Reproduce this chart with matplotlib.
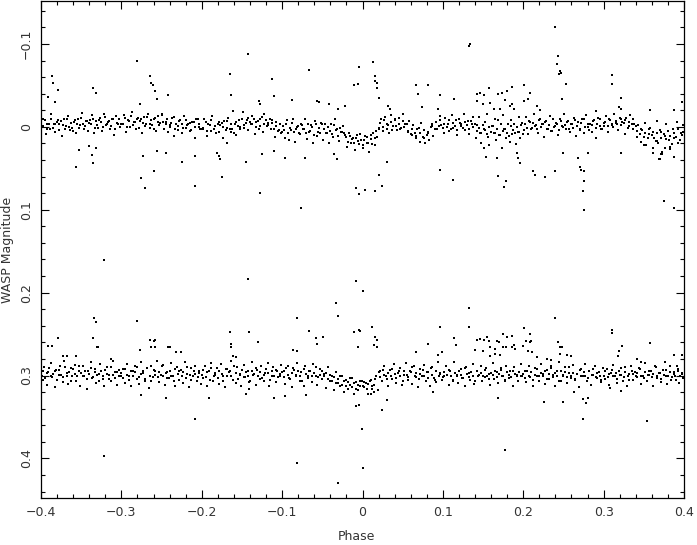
import numpy as np
import matplotlib.pyplot as plt
from matplotlib.ticker import MultipleLocator, FixedLocator

# phase and magnitude in units of 1e-3

# upper light curve, main band (two passes over the band)
upper_phase = [
    -399, -397, -394, -392, -389, -387, -384, -382, -379, -377,
    -374, -372, -369, -367, -364, -362, -359, -357, -354, -352,
    -349, -347, -344, -342, -339, -337, -334, -332, -329, -327,
    -324, -322, -319, -317, -314, -312, -309, -307, -304, -302,
    -299, -297, -294, -292, -289, -287, -284, -282, -279, -277,
    -274, -272, -269, -267, -264, -262, -259, -257, -254, -252,
    -249, -247, -244, -242, -239, -237, -234, -232, -229, -227,
    -224, -222, -219, -217, -214, -212, -209, -207, -204, -202,
    -199, -197, -194, -192, -189, -187, -184, -182, -179, -177,
    -174, -172, -169, -167, -164, -162, -159, -157, -154, -152,
    -149, -147, -144, -142, -139, -137, -134, -132, -129, -127,
    -124, -122, -119, -117, -114, -112, -109, -107, -104, -102,
    -99, -97, -94, -92, -89, -87, -84, -82, -79, -77,
    -74, -72, -69, -67, -64, -62, -59, -57, -54, -52,
    -49, -47, -44, -42, -39, -37, -34, -32, -29, -27,
    -24, -22, -19, -17, -14, -12, -9, -7, -4, -2,
    1, 3, 6, 8, 11, 13, 16, 18, 21, 23,
    26, 28, 31, 33, 36, 38, 41, 43, 46, 48,
    51, 53, 56, 58, 61, 63, 66, 68, 71, 73,
    76, 78, 81, 83, 86, 88, 91, 93, 96, 98,
    101, 103, 106, 108, 111, 113, 116, 118, 121, 123,
    126, 128, 131, 133, 136, 138, 141, 143, 146, 148,
    151, 153, 156, 158, 161, 163, 166, 168, 171, 173,
    176, 178, 181, 183, 186, 188, 191, 193, 196, 198,
    201, 203, 206, 208, 211, 213, 216, 218, 221, 223,
    226, 228, 231, 233, 236, 238, 241, 243, 246, 248,
    251, 253, 256, 258, 261, 263, 266, 268, 271, 273,
    276, 278, 281, 283, 286, 288, 291, 293, 296, 298,
    301, 303, 306, 308, 311, 313, 316, 318, 321, 323,
    326, 328, 331, 333, 336, 338, 341, 343, 346, 348,
    351, 353, 356, 358, 361, 363, 366, 368, 371, 373,
    376, 378, 381, 383, 386, 388, 391, 393, 396, 399,
]
upper_mag = [
    -1, -10, 9, -4, 3, -15, -3, 6, -8, -4,
    11, -9, -1, -13, 4, 1, -6, 8, -10, -2,
    -17, 2, -7, 5, -8, -14, 8, -7, 1, -11,
    5, -16, -2, -6, 2, -9, 10, -13, -3, 0,
    -3, -14, 6, -8, 0, -18, -6, 3, -11, -7,
    8, -12, -4, -16, 1, -2, -9, 5, -13, -5,
    -16, 3, -6, 6, -2, -11, 11, -4, 4, -8,
    8, -13, 1, -3, 5, -6, 13, -10, 0, 3,
    2, -9, 11, -3, 5, -13, -1, 8, -6, -2,
    13, -7, 1, -11, 6, 3, -4, 10, -8, 0,
    -18, 1, -8, 4, -4, -13, 9, -6, 2, -10,
    6, -15, -1, -5, 3, -8, 12, -6, 4, 7,
    -1, 14, -8, 16, 4, -10, 18, 0, 8, -4,
    3, -9, 15, 6, -2, 19, -7, 11, 1, -5,
    16, -4, 8, 20, -3, 12, -9, 2, 17, 6,
    -1, 10, 24, 8, 19, 13, 28, 10, 21, 16,
    26, 11, 20, 30, 15, 8, 22, 12, 2, -9,
    5, -12, -4, 7, -14, -1, -8, 4, -11, 1,
    -15, -3, 6, -7, 10, -2, 14, 3, 18, -5,
    13, 20, 8, 16, -1, 11, -6, 3, -13, -2,
    8, -11, -3, 5, -14, 1, -8, 10, -5, -1,
    -16, 4, -7, 9, -4, -12, 14, -2, 8, 19,
    3, -6, 12, 22, -1, 7, 16, -8, 10, 25,
    2, 13, -4, 18, 9, -3, 21, 6, 14, -5,
    4, -12, 9, -6, 1, -15, -2, 7, -9, -4,
    12, -7, 2, -13, 5, 0, -5, 10, -10, -1,
    -16, 3, -7, 6, -3, -11, 11, -6, 4, -9,
    7, -14, 0, -3, 6, -8, 13, -11, -1, 3,
    -1, -13, 6, -8, -2, -16, -5, 4, -10, -6,
    9, -11, -1, -14, 2, -3, 12, -2, 18, 4,
    -5, 22, 9, 1, 26, 14, -7, 19, 6, 30,
    11, -3, 16, 24, 2, 13, -6, 20, 8, -2,
]
upper_phase_b = [
    -398, -395, -393, -390, -388, -385, -383, -380, -378, -375,
    -373, -370, -368, -365, -363, -360, -358, -355, -353, -350,
    -348, -345, -343, -340, -338, -335, -333, -330, -328, -325,
    -323, -320, -318, -315, -313, -310, -308, -305, -303, -300,
    -298, -295, -293, -290, -288, -285, -283, -280, -278, -275,
    -273, -270, -268, -265, -263, -260, -258, -255, -253, -250,
    -248, -245, -243, -240, -238, -235, -233, -230, -228, -225,
    -223, -220, -218, -215, -213, -210, -208, -205, -203, -200,
    -198, -195, -193, -190, -188, -185, -183, -180, -178, -175,
    -173, -170, -168, -165, -163, -160, -158, -155, -153, -150,
    -148, -145, -143, -140, -138, -135, -133, -130, -128, -125,
    -123, -120, -118, -115, -113, -110, -108, -105, -103, -100,
    -98, -95, -93, -90, -88, -85, -83, -80, -78, -75,
    -73, -70, -68, -65, -63, -60, -58, -55, -53, -50,
    -48, -45, -43, -40, -38, -35, -33, -30, -28, -25,
    -23, -20, -18, -15, -13, -10, -8, -5, -3, 0,
    2, 5, 7, 10, 12, 15, 17, 20, 22, 25,
    27, 30, 32, 35, 37, 40, 42, 45, 47, 50,
    52, 55, 57, 60, 62, 65, 67, 70, 72, 75,
    77, 80, 82, 85, 87, 90, 92, 95, 97, 100,
    102, 105, 107, 110, 112, 115, 117, 120, 122, 125,
    127, 130, 132, 135, 137, 140, 142, 145, 147, 150,
    152, 155, 157, 160, 162, 165, 167, 170, 172, 175,
    177, 180, 182, 185, 187, 190, 192, 195, 197, 200,
    202, 205, 207, 210, 212, 215, 217, 220, 222, 225,
    227, 230, 232, 235, 237, 240, 242, 245, 247, 250,
    252, 255, 257, 260, 262, 265, 267, 270, 272, 275,
    277, 280, 282, 285, 287, 290, 292, 295, 297, 300,
    302, 305, 307, 310, 312, 315, 317, 320, 322, 325,
    327, 330, 332, 335, 337, 340, 342, 345, 347, 350,
    352, 355, 357, 360, 362, 365, 367, 370, 372, 375,
    377, 380, 382, 385, 387, 390, 392, 395, 397, 399,
]
upper_mag_b = [
    -1, -8, 3, -4, -10, 1, -3, -6, 4, -7,
    -2, 2, -9, 0, -5, 5, -8, -3, 1, -11,
    -4, -1, -7, -5, -3, -10, 1, -2, -8, -6,
    0, -12, -4, -7, -1, -9, 2, -5, -10, -3,
    -4, -11, 0, -7, -13, -2, -6, -9, 1, -10,
    -5, -1, -12, -3, -8, 2, -11, -6, -2, -14,
    -6, -3, -9, 0, -5, -12, 3, -1, -7, -4,
    1, -8, -2, -5, 4, -6, 0, -9, -3, 2,
    1, -6, 5, -2, -8, 3, -1, -4, 6, -5,
    0, 4, -7, 2, -3, 7, -6, -1, 3, -9,
    -2, -5, -11, -6, -3, -9, 0, -7, -1, -12,
    -4, -8, -2, -10, -5, 3, -1, 5, -4, 6,
    4, -3, 8, 1, -5, 6, 2, -1, 9, -2,
    3, 7, -4, 5, 0, 10, -3, 6, 8, -4,
    2, 7, 0, 5, 9, -2, 4, 11, 1, 6,
    8, 12, 18, 11, 15, 20, 13, 17, 9, 22,
    16, 12, 19, 10, 21, 14, 5, 1, -5, 0,
    -8, 3, -2, -6, 4, -9, -1, -4, 2, -7,
    0, -3, 5, 9, 3, 8, 11, 1, 7, 12,
    4, 10, 6, 0, -4, 2, -6, -1, -8, 1,
    -4, 0, -8, 2, -5, -1, 4, -9, -3, 1,
    -6, -2, 3, -7, 0, -4, 5, 1, 7, -2,
    4, 9, 0, 6, -1, 8, 3, 10, -3, 5,
    2, 7, 11, -1, 4, 8, 0, 6, -2, 9,
    -3, 1, -7, 2, -5, -1, 3, -8, 0, -4,
    -6, 2, -2, 5, -9, -1, -4, 4, -7, 0,
    -2, -6, 3, -3, 1, -8, -1, 2, -5, -10,
    0, -4, 4, -2, -7, 1, -3, -9, 2, -5,
    -6, -1, -9, -3, 0, -7, -4, -11, -2, -5,
    -8, 1, -6, -3, -10, -1, 5, 9, 3, 12,
    7, 14, 2, 10, 6, 17, 8, 4, 13, 9,
    15, 5, 11, 21, 7, 12, 3, 16, 10, 6,
]

# upper light curve, scattered points
upper_out_phase = [
    -386, -385, -379, -383, -391, -356, -353, -335, -332, -336,
    -331, -335, -340, -281, -264, -263, -261, -258, -256, -277,
    -242, -276, -271, -259, -273, -256, -244, -225, -208, -209,
    -175, -181, -179, -177, -165, -163, -142, -145, -161, -169,
    -112, -66, -128, -77, -125, -97, -110, -71, -32, -35,
    -129, -127, -110, -88, -57, -54, -42, -31, -22, -10,
    -6, -4, 13, 16, 15, 18, 18, 20, -8, -4,
    3, 16, 24, 21, 31, 34, 32, 67, 69, 81,
    97, 114, 132, 134, 97, 113, 94, 74,
    240, 243, 242, 246, 247, 245, 253, 248, 310, 311,
    321, 268, 270, 272, 275, 276, 274, 275, 168, 176,
    179, 212, 214, 227, 240, 250, 280, 322, 375, 388,
    387, 370, 373, 194, 196, 192, 154, 151, 167,
    142, 146, 151, 157, 169, 173, 177, 180, 186, 184,
    201, 206, 208, 201, 142, 159, 150, 163, 171, 186,
    189, 319, 322, 358, 387, 397, 291, 217, 221, 350,
    362, 366, 372, 382, 369, 376, 145, 155, 165, 175,
    185, 195,
]
upper_out_mag = [
    -61, -53, -45, -30, -36, 49, 28, -47, -41, 34,
    25, 44, 23, -80, -61, -53, -51, -43, -33, -28,
    -39, 62, 74, 53, 35, 29, 32, 43, 71, 35,
    60, 31, 35, 39, -64, -39, -88, 43, -19, 20,
    -58, -69, 80, 98, 33, 37, 29, 38, 39, 33,
    -31, -27, -37, -32, -31, -30, -28, -22, -25, -50,
    -52, -72, -78, -61, -55, -53, -47, -35, 74, 81,
    76, 77, 71, 58, 42, -22, -25, -51, -40, -51,
    -38, -34, -97, -100, 52, 64, -22, -24,
    -120, -85, -76, -67, -65, -64, -52, -33, -63, -52,
    -35, 37, 48, 52, 53, 65, 77, 100, 59, 72,
    65, 53, 58, 60, 53, 31, 32, 31, 90, 98,
    36, 39, 33, 37, 44, 32, 36, 25, 37,
    -40, -41, -39, -47, -40, -41, -32, -43, -48, -25,
    -31, -33, -41, -51, -31, -29, -27, -22, -21, -27,
    -22, -24, -22, -20, -20, -30, -19, -25, -20, 22,
    31, 17, 33, 27, 39, 26, -12, -15, -10, -14,
    -8, -12,
]

# lower light curve, main band (two passes over the band)
lower_phase = [
    -398, -396, -393, -391, -388, -386, -383, -381, -378, -376,
    -373, -371, -368, -366, -363, -361, -358, -356, -353, -351,
    -348, -346, -343, -341, -338, -336, -333, -331, -328, -326,
    -323, -321, -318, -316, -313, -311, -308, -306, -303, -301,
    -298, -296, -293, -291, -288, -286, -283, -281, -278, -276,
    -273, -271, -268, -266, -263, -261, -258, -256, -253, -251,
    -248, -246, -243, -241, -238, -236, -233, -231, -228, -226,
    -223, -221, -218, -216, -213, -211, -208, -206, -203, -201,
    -198, -196, -193, -191, -188, -186, -183, -181, -178, -176,
    -173, -171, -168, -166, -163, -161, -158, -156, -153, -151,
    -148, -146, -143, -141, -138, -136, -133, -131, -128, -126,
    -123, -121, -118, -116, -113, -111, -108, -106, -103, -101,
    -98, -96, -93, -91, -88, -86, -83, -81, -78, -76,
    -73, -71, -68, -66, -63, -61, -58, -56, -53, -51,
    -48, -46, -43, -41, -38, -36, -33, -31, -28, -26,
    -23, -21, -18, -16, -13, -11, -8, -6, -3, -1,
    2, 4, 7, 9, 12, 14, 17, 19, 22, 24,
    27, 29, 32, 34, 37, 39, 42, 44, 47, 49,
    52, 54, 57, 59, 62, 64, 67, 69, 72, 74,
    77, 79, 82, 84, 87, 89, 92, 94, 97, 99,
    102, 104, 107, 109, 112, 114, 117, 119, 122, 124,
    127, 129, 132, 134, 137, 139, 142, 144, 147, 149,
    152, 154, 157, 159, 162, 164, 167, 169, 172, 174,
    177, 179, 182, 184, 187, 189, 192, 194, 197, 199,
    202, 204, 207, 209, 212, 214, 217, 219, 222, 224,
    227, 229, 232, 234, 237, 239, 242, 244, 247, 249,
    252, 254, 257, 259, 262, 264, 267, 269, 272, 274,
    277, 279, 282, 284, 287, 289, 292, 294, 297, 299,
    302, 304, 307, 309, 312, 314, 317, 319, 322, 324,
    327, 329, 332, 334, 337, 339, 342, 344, 347, 349,
    352, 354, 357, 359, 362, 364, 367, 369, 372, 374,
    377, 379, 382, 384, 387, 389, 392, 394, 397, 399,
]
lower_mag = [
    305, 290, 311, 296, 285, 302, 314, 293, 299, 288,
    308, 283, 297, 310, 291, 301, 287, 306, 295, 312,
    289, 300, 316, 294, 284, 303, 292, 309, 298, 286,
    304, 313, 290, 299, 307, 282, 296, 311, 293, 301,
    292, 309, 286, 300, 313, 295, 288, 304, 310, 284,
    297, 306, 291, 315, 289, 302, 294, 283, 308, 299,
    287, 311, 296, 303, 285, 300, 312, 290, 305, 293,
    309, 284, 298, 314, 291, 301, 288, 306, 295, 310,
    303, 288, 312, 294, 285, 307, 299, 291, 310, 286,
    300, 314, 292, 296, 283, 305, 309, 290, 298, 312,
    287, 302, 295, 308, 284, 299, 311, 293, 304, 289,
    306, 297, 285, 313, 301, 290, 308, 294, 300, 287,
    295, 310, 288, 303, 314, 291, 299, 285, 307, 296,
    312, 289, 301, 294, 308, 286, 300, 311, 292, 304,
    298, 315, 290, 306, 301, 318, 296, 309, 313, 300,
    320, 305, 316, 311, 303, 322, 308, 317, 312, 306,
    314, 309, 322, 306, 316, 311, 301, 318, 295, 307,
    288, 300, 312, 293, 304, 286, 309, 297, 291, 311,
    299, 285, 305, 295, 310, 289, 302, 314, 292, 300,
    287, 306, 296, 313, 290, 303, 308, 284, 298, 305,
    301, 288, 311, 295, 306, 284, 299, 309, 292, 303,
    313, 290, 297, 305, 286, 310, 294, 300, 289, 307,
    302, 291, 298, 311, 285, 304, 296, 309, 293, 300,
    306, 288, 303, 295, 312, 290, 299, 307, 286, 301,
    295, 308, 289, 302, 313, 291, 300, 306, 286, 298,
    310, 293, 304, 288, 299, 312, 295, 284, 307, 301,
    290, 309, 297, 303, 287, 305, 298, 314, 292, 300,
    286, 306, 294, 311, 299, 289, 303, 296, 308, 291,
    304, 292, 311, 297, 287, 301, 309, 294, 299, 306,
    290, 313, 298, 288, 305, 296, 302, 291, 310, 300,
    285, 307, 299, 294, 312, 289, 303, 297, 308, 293,
    301, 310, 288, 305, 296, 300, 292, 309, 298, 303,
]
lower_phase_b = [
    -399, -398, -395, -393, -390, -388, -385, -383, -380, -378,
    -375, -373, -370, -368, -365, -363, -360, -358, -355, -353,
    -350, -348, -345, -343, -340, -338, -335, -333, -330, -328,
    -325, -323, -320, -318, -315, -313, -310, -308, -305, -303,
    -300, -298, -295, -293, -290, -288, -285, -283, -280, -278,
    -275, -273, -270, -268, -265, -263, -260, -258, -255, -253,
    -250, -248, -245, -243, -240, -238, -235, -233, -230, -228,
    -225, -223, -220, -218, -215, -213, -210, -208, -205, -203,
    -200, -198, -195, -193, -190, -188, -185, -183, -180, -178,
    -175, -173, -170, -168, -165, -163, -160, -158, -155, -153,
    -150, -148, -145, -143, -140, -138, -135, -133, -130, -128,
    -125, -123, -120, -118, -115, -113, -110, -108, -105, -103,
    -100, -98, -95, -93, -90, -88, -85, -83, -80, -78,
    -75, -73, -70, -68, -65, -63, -60, -58, -55, -53,
    -50, -48, -45, -43, -40, -38, -35, -33, -30, -28,
    -25, -23, -20, -18, -15, -13, -10, -8, -5, -3,
    0, 2, 5, 7, 10, 12, 15, 17, 20, 22,
    25, 27, 30, 32, 35, 37, 40, 42, 45, 47,
    50, 52, 55, 57, 60, 62, 65, 67, 70, 72,
    75, 77, 80, 82, 85, 87, 90, 92, 95, 97,
    100, 102, 105, 107, 110, 112, 115, 117, 120, 122,
    125, 127, 130, 132, 135, 137, 140, 142, 145, 147,
    150, 152, 155, 157, 160, 162, 165, 167, 170, 172,
    175, 177, 180, 182, 185, 187, 190, 192, 195, 197,
    200, 202, 205, 207, 210, 212, 215, 217, 220, 222,
    225, 227, 230, 232, 235, 237, 240, 242, 245, 247,
    250, 252, 255, 257, 260, 262, 265, 267, 270, 272,
    275, 277, 280, 282, 285, 287, 290, 292, 295, 297,
    300, 302, 305, 307, 310, 312, 315, 317, 320, 322,
    325, 327, 330, 332, 335, 337, 340, 342, 345, 347,
    350, 352, 355, 357, 360, 362, 365, 367, 370, 372,
    375, 377, 380, 382, 385, 387, 390, 392, 395, 397,
]
lower_mag_b = [
    300, 294, 303, 297, 291, 301, 298, 295, 305, 293,
    299, 302, 290, 300, 296, 306, 292, 298, 301, 289,
    297, 300, 294, 304, 298, 291, 302, 296, 299, 307,
    295, 301, 293, 298, 304, 290, 299, 303, 296, 300,
    297, 303, 292, 299, 305, 294, 300, 296, 290, 302,
    298, 295, 304, 291, 300, 306, 293, 299, 302, 296,
    289, 301, 297, 303, 295, 300, 307, 292, 298, 294,
    301, 296, 303, 290, 299, 305, 294, 298, 302, 297,
    299, 293, 302, 296, 305, 291, 300, 297, 303, 294,
    298, 306, 292, 300, 295, 301, 289, 297, 304, 299,
    293, 302, 296, 300, 307, 294, 298, 291, 301, 296,
    303, 299, 292, 297, 305, 295, 300, 293, 302, 298,
    296, 302, 291, 299, 304, 297, 293, 301, 295, 300,
    306, 292, 298, 303, 294, 300, 297, 290, 302, 299,
    295, 301, 297, 304, 299, 307, 302, 309, 304, 300,
    311, 306, 313, 308, 303, 314, 309, 316, 311, 307,
    313, 308, 316, 310, 305, 312, 304, 300, 296, 302,
    293, 299, 304, 297, 301, 292, 298, 303, 295, 300,
    306, 294, 299, 302, 296, 290, 301, 297, 304, 298,
    293, 300, 296, 303, 291, 299, 305, 295, 300, 297,
    302, 296, 299, 293, 301, 305, 297, 300, 294, 299,
    303, 291, 298, 302, 296, 300, 306, 294, 299, 297,
    301, 293, 300, 304, 297, 299, 295, 302, 298, 291,
    300, 305, 296, 299, 302, 294, 298, 301, 296, 300,
    298, 303, 294, 300, 296, 305, 299, 292, 301, 297,
    300, 295, 304, 298, 291, 302, 297, 300, 306, 294,
    299, 296, 302, 290, 300, 297, 304, 298, 293, 301,
    296, 300, 303, 295, 299, 292, 302, 297, 300, 305,
    300, 295, 302, 298, 293, 301, 297, 304, 299, 291,
    302, 296, 300, 305, 294, 298, 301, 297, 292, 300,
    303, 296, 299, 295, 302, 298, 290, 301, 297, 304,
    299, 293, 300, 296, 302, 298, 305, 294, 300, 297,
]

# lower light curve, scattered points
lower_out_phase = [
    -322, -322, -142, -208, -334, -332, -281, -335, -379, -391,
    -386, -329, -264, -260, -258, -263, -258, -277, -242, -240,
    -232, -226, -165, -141, -163, -164, -161, -158, -276, -244,
    -191, -145, -141, -373, -368, -356, -313, -330,
    -8, 0, -33, -31, -81, -130, -67, -58, -49, -56,
    -10, -4, -3, 12, 15, 18, 14, 18, -5, -87,
    -82, 81, 97, 114, 116, 133, 133, 67, 94, 99,
    -8, -4, 24, -1, -81, 0, -31, -110, -96, -70,
    31, 88, 11, 14,
    240, 201, 311, 310, 208, 243, 246, 248, 358, 323,
    142, 146, 151, 155, 157, 167, 170, 175, 180, 186,
    179, 186, 188, 159, 165, 175, 203, 208, 210, 140,
    150, 159, 165, 171, 190, 200, 206, 211, 226, 250,
    274, 280, 278, 274, 354, 177, 169, 263, 322, 308,
    319, 318, 387, 397, 376, 391, 347, 342, 246, 254,
    260, 217, 230, 235,
]
lower_out_mag = [
    161, 397, 184, 353, 231, 235, 234, 255, 255, 264,
    264, 265, 257, 258, 257, 265, 265, 269, 266, 266,
    271, 272, 247, 247, 262, 265, 276, 278, 323, 327,
    327, 322, 316, 277, 277, 277, 280, 265,
    186, 198, 213, 228, 230, 259, 246, 255, 254, 262,
    248, 245, 246, 242, 253, 257, 263, 266, 266, 269,
    270, 262, 241, 255, 263, 218, 241, 272, 275, 271,
    337, 335, 341, 364, 406, 412, 430, 327, 325, 323,
    329, 320, 322, 320,
    230, 243, 245, 249, 250, 259, 265, 265, 261, 264,
    257, 256, 257, 253, 258, 258, 260, 250, 254, 252,
    265, 266, 263, 266, 268, 266, 258, 260, 258, 269,
    270, 276, 274, 275, 268, 264, 270, 271, 332, 332,
    328, 327, 333, 353, 355, 390, 327, 320, 319, 315,
    270, 276, 275, 275, 284, 288, 284, 280, 274, 275,
    276, 278, 280, 281,
]

x_ticks = [-0.4, -0.3, -0.2, -0.1, 0, 0.1, 0.2, 0.3, 0.4]
x_labels = ["\u22120.4", "\u22120.3", "\u22120.2", "\u22120.1", "0", "0.1", "0.2", "0.3", "0.4"]
y_ticks = [-0.1, 0, 0.1, 0.2, 0.3, 0.4]
y_labels = ["\u22120.1", "0", "0.1", "0.2", "0.3", "0.4"]

fig = plt.figure(figsize=(6.97, 5.45), dpi=100)
ax = fig.add_axes([41 / 697, 47 / 545, 643 / 697, 497 / 545])

series = [
    (upper_phase, upper_mag), (upper_phase_b, upper_mag_b),
    (upper_out_phase, upper_out_mag),
    (lower_phase, lower_mag), (lower_phase_b, lower_mag_b),
    (lower_out_phase, lower_out_mag),
]
for ph, mg in series:
    ax.plot(np.array(ph) / 1000, np.array(mg) / 1000, 's', color='black',
            markersize=1.8, markeredgewidth=0, linestyle='none')

ax.set_xlim(-0.4, 0.4)
ax.set_ylim(0.4477, -0.1518)

ax.xaxis.set_major_locator(FixedLocator(x_ticks))
ax.set_xticklabels(x_labels)
ax.xaxis.set_minor_locator(MultipleLocator(0.02))
ax.yaxis.set_major_locator(FixedLocator(y_ticks))
ax.set_yticklabels(y_labels, rotation=90, va='center')
ax.yaxis.set_minor_locator(MultipleLocator(0.02))

ax.tick_params(which='both', direction='in', top=True, right=True,
               colors='black', labelsize=9, width=0.8)
ax.tick_params(which='major', length=6, pad=6)
ax.tick_params(which='minor', length=3)
for lab in ax.get_xticklabels() + ax.get_yticklabels():
    lab.set_color('#333333')

for s in ax.spines.values():
    s.set_linewidth(0.9)

fig.text(356 / 697, 1 - 537 / 545, "Phase", ha='center', va='center',
         fontsize=9, color='#333333')
fig.text(8 / 697, 1 - 250 / 545, "WASP Magnitude", ha='center', va='center',
         rotation=90, fontsize=9, color='#333333')

fig.savefig("out.png", dpi=100)
